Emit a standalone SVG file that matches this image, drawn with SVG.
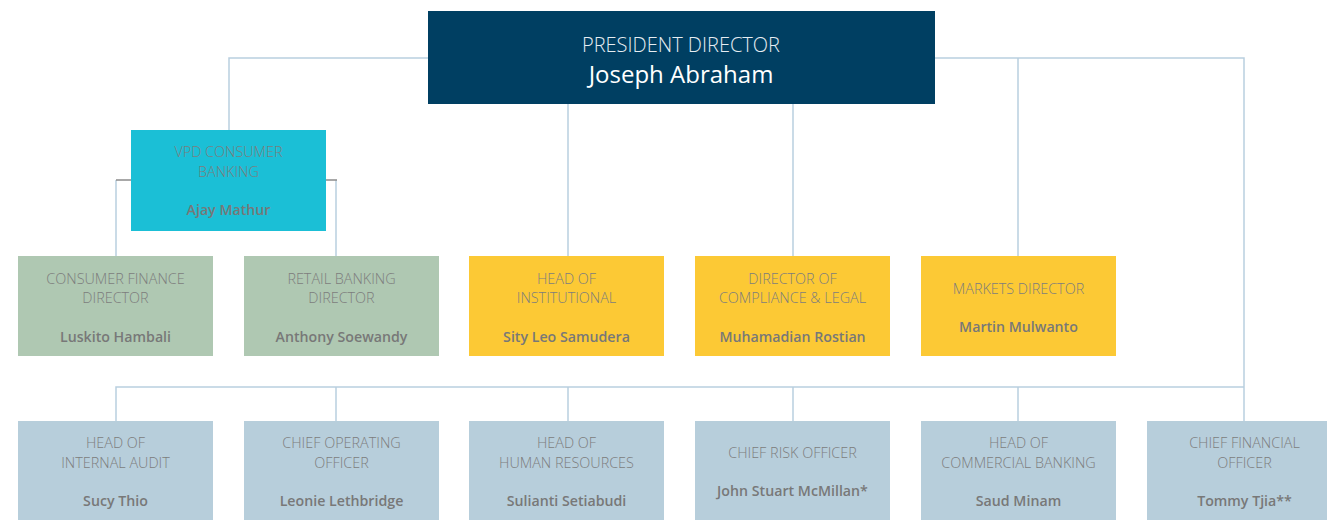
<svg xmlns="http://www.w3.org/2000/svg" width="1327" height="520" viewBox="0 0 1327 520">
<style>
.ln{stroke:#b9cfdf;stroke-width:1.5;fill:none}
.lg{stroke:#8c8c8c;stroke-width:1.5;fill:none}
.t{font-family:"Open Sans","Liberation Sans",sans-serif;font-weight:300;font-size:14.4px;fill:#7d7d7d;text-anchor:middle}
.n{font-family:"Open Sans","Liberation Sans",sans-serif;font-weight:600;font-size:14.2px;fill:#787878;text-anchor:middle}
.g{fill:#afc8b2}.y{fill:#fcc935}.b{fill:#b7cedb}
</style>
<rect width="1327" height="520" fill="#ffffff"/>
<g id="connectors">
<path class="ln" d="M229 130V58H1244V387M568 104V256M793 104V256M1018 58V256"/>
<path class="ln" d="M116 180V256M336 180V256"/>
<path class="lg" d="M116 180H131M326 180H337"/>
<path class="ln" d="M116 421V387H1244M336 387V421M568 387V421M793 387V421M1018 387V421M1244 387V421"/>
</g>
<g id="president">
<rect x="428" y="11" width="507" height="93" fill="#003f62"/>
<text x="681" y="52" style="font-family:'Open Sans','Liberation Sans',sans-serif;font-weight:300;font-size:20px;fill:#e6edf2;text-anchor:middle">PRESIDENT DIRECTOR</text>
<text x="681" y="83" style="font-family:'Open Sans','Liberation Sans',sans-serif;font-weight:500;font-size:24px;fill:#ffffff;text-anchor:middle">Joseph Abraham</text>
</g>
<g id="vpd">
<rect x="131" y="130" width="195" height="101" fill="#1bbfd6"/>
<text class="t" x="228.5" y="157">VPD CONSUMER</text>
<text class="t" x="228.5" y="177">BANKING</text>
<text class="n" x="228.5" y="215">Ajay Mathur</text>
</g>
<g id="consumer-finance">
<rect class="g" x="18" y="256" width="195" height="100"/>
<text class="t" x="115.5" y="284">CONSUMER FINANCE</text>
<text class="t" x="115.5" y="303">DIRECTOR</text>
<text class="n" x="115.5" y="342">Luskito Hambali</text>
</g>
<g id="retail-banking">
<rect class="g" x="244" y="256" width="195" height="100"/>
<text class="t" x="341.5" y="284">RETAIL BANKING</text>
<text class="t" x="341.5" y="303">DIRECTOR</text>
<text class="n" x="341.5" y="342">Anthony Soewandy</text>
</g>
<g id="institutional">
<rect class="y" x="469" y="256" width="195" height="100"/>
<text class="t" x="566.5" y="284">HEAD OF</text>
<text class="t" x="566.5" y="303">INSTITUTIONAL</text>
<text class="n" x="566.5" y="342">Sity Leo Samudera</text>
</g>
<g id="compliance">
<rect class="y" x="695" y="256" width="195" height="100"/>
<text class="t" x="792.5" y="284">DIRECTOR OF</text>
<text class="t" x="792.5" y="303">COMPLIANCE &amp; LEGAL</text>
<text class="n" x="792.5" y="342">Muhamadian Rostian</text>
</g>
<g id="markets">
<rect class="y" x="921" y="256" width="195" height="100"/>
<text class="t" x="1018.5" y="294">MARKETS DIRECTOR</text>
<text class="n" x="1018.5" y="332">Martin Mulwanto</text>
</g>
<g id="internal-audit">
<rect class="b" x="18" y="421" width="195" height="99"/>
<text class="t" x="115.5" y="448">HEAD OF</text>
<text class="t" x="115.5" y="468">INTERNAL AUDIT</text>
<text class="n" x="115.5" y="506">Sucy Thio</text>
</g>
<g id="coo">
<rect class="b" x="244" y="421" width="195" height="99"/>
<text class="t" x="341.5" y="448">CHIEF OPERATING</text>
<text class="t" x="341.5" y="468">OFFICER</text>
<text class="n" x="341.5" y="506">Leonie Lethbridge</text>
</g>
<g id="hr">
<rect class="b" x="469" y="421" width="195" height="99"/>
<text class="t" x="566.5" y="448">HEAD OF</text>
<text class="t" x="566.5" y="468">HUMAN RESOURCES</text>
<text class="n" x="566.5" y="506">Sulianti Setiabudi</text>
</g>
<g id="cro">
<rect class="b" x="695" y="421" width="195" height="99"/>
<text class="t" x="792.5" y="458">CHIEF RISK OFFICER</text>
<text class="n" x="792.5" y="496">John Stuart McMillan*</text>
</g>
<g id="commercial">
<rect class="b" x="921" y="421" width="195" height="99"/>
<text class="t" x="1018.5" y="448">HEAD OF</text>
<text class="t" x="1018.5" y="468">COMMERCIAL BANKING</text>
<text class="n" x="1018.5" y="506">Saud Minam</text>
</g>
<g id="cfo">
<rect class="b" x="1147" y="421" width="195" height="99"/>
<text class="t" x="1244.5" y="448">CHIEF FINANCIAL</text>
<text class="t" x="1244.5" y="468">OFFICER</text>
<text class="n" x="1244.5" y="506">Tommy Tjia**</text>
</g>
</svg>
